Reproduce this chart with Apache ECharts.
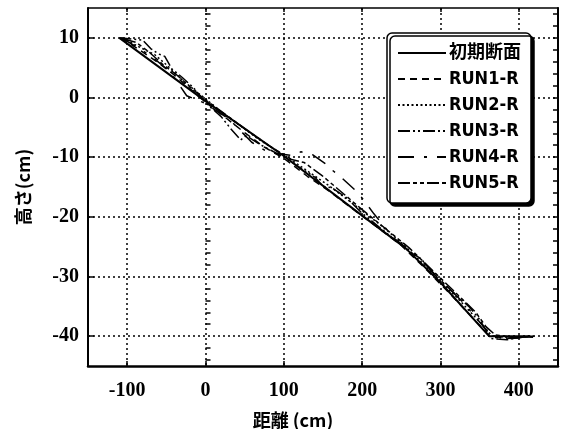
<!DOCTYPE html>
<html>
<head>
<meta charset="utf-8">
<script src="https://cdn.jsdelivr.net/npm/echarts@6/dist/echarts.min.js"></script>
<style>
  html, body { margin: 0; padding: 0; background: #fff; }
  #chart { width: 565px; height: 429px; }
</style>
</head>
<body>
<div id="chart"></div>
<script>
// Slope profiles: distance (cm) vs height (cm)
const seriesNames = ['初期断面', 'RUN1-R', 'RUN2-R', 'RUN3-R', 'RUN4-R', 'RUN5-R'];

const initialProfile = [[-110,10],[0,-0.6],[100,-9.8],[200,-19.8],[255,-25.2],[300,-31],[362,-40],[415,-40]];

const run1 = [[-108,10],[-80,7.6],[-60,5.8],[-40,3.8],[-20,1.5],[0,-0.8],[25,-3.3],[50,-5.9],[75,-8.3],[100,-10.2],
  [130,-13.2],[160,-15.9],[190,-18.9],[220,-21.8],[250,-24.8],[280,-28.6],[310,-32.6],[340,-36.8],[360,-39.6],
  [380,-40.4],[400,-40.2],[418,-40]];

const run2 = [[-106,10],[-85,8.5],[-65,7.2],[-50,5.5],[-30,3],[-10,0.8],[0,-0.2],[20,-2.4],[45,-4.8],[70,-7.2],
  [100,-9.6],[130,-12.3],[160,-15],[190,-18],[220,-21],[250,-24.3],[285,-28.8],[320,-33.4],[350,-37.6],[366,-40],
  [395,-40.3],[416,-39.9]];

const run3 = [[-110,10],[-80,9.6],[-70,8.2],[-60,7.3],[-52,6.9],[-43,4.8],[-30,3.4],[-15,1.6],[0,-0.9],[20,-3.2],
  [32,-5.2],[45,-7.1],[52,-6.4],[70,-7.9],[100,-10],[140,-13.4],[150,-14.9],[161,-15.1],[180,-16.8],[200,-19.4],
  [230,-22.6],[260,-25.8],[275,-27],[289,-29.2],[315,-32.5],[336,-35],[350,-37.2],[364,-40.4],[385,-40.6],
  [405,-40.1],[420,-40.2]];

const run4 = [[-107,10],[-70,7],[-45,4.3],[-24,0.3],[0,-1],[30,-3.6],[59,-7.5],[80,-9.2],[110,-9.7],[122,-9.1],
  [137,-9.6],[152,-11],[160,-12],[170,-13],[195,-16],[215,-19.5],[240,-23.5],[272,-26.8],[300,-30.6],[330,-34.5],
  [356,-38.6],[368,-40.2],[392,-40.4],[412,-40]];

const run5 = [[-104,9.8],[-88,9.2],[-72,7.6],[-55,5.6],[-35,3.6],[-15,1.2],[0,-0.4],[25,-2.8],[50,-5.2],[80,-8],
  [110,-10.4],[126,-10.9],[148,-13],[175,-16],[200,-18.8],[230,-22],[260,-25.2],[290,-29],[320,-32.8],[345,-36],
  [358,-38.4],[370,-39.8],[398,-40.3],[420,-40]];

const xTicks = [-100, 0, 100, 200, 300, 400];
const yTicks = [-40, -30, -20, -10, 0, 10];
const yMinorTicks = [-44,-42,-38,-36,-34,-32,-28,-26,-24,-22,-18,-16,-14,-12,-8,-6,-4,-2,2,4,6,8,12,14];

const profiles = [initialProfile, run1, run2, run3, run4, run5];
const dashStyles = ['solid', [7, 5], [2, 2.5], [12, 3, 2, 3, 2, 3], [16, 10, 3, 10], [12, 3, 4, 3, 4, 3]];
const widths = [2, 1.5, 1.5, 1.5, 1.5, 1.5];

const serifFont = "'Liberation Serif', 'DejaVu Serif', serif";
const labelFont = "'Liberation Sans Narrow', 'DejaVu Sans Condensed', 'Liberation Sans', 'Noto Sans CJK JP', sans-serif";

const chart = echarts.init(document.getElementById('chart'), null, { renderer: 'canvas' });

const axisLine = (w) => ({ show: true, onZero: false, lineStyle: { color: '#000', width: w } });

chart.setOption({
  animation: false,
  backgroundColor: '#fff',
  grid: { left: 88, right: 7, top: 8, bottom: 63, outerBoundsMode: 'none', containLabel: false },
  xAxis: [
    {
      type: 'value', position: 'bottom', min: -150, max: 450,
      axisLine: axisLine(2.5),
      axisTick: { show: true, inside: true, length: 5, customValues: xTicks, lineStyle: { color: '#000', width: 1.5 } },
      axisLabel: { customValues: xTicks, color: '#000', fontFamily: serifFont, fontWeight: 'bold', fontSize: 20, margin: 15 },
      splitLine: { show: true, lineStyle: { color: '#000', type: [2, 3], width: 1.5 } },
      name: '距離 (cm)', nameLocation: 'middle', nameGap: 45,
      nameTextStyle: { color: '#000', fontFamily: "'Noto Sans CJK JP', sans-serif", fontWeight: 'bold', fontSize: 18, padding: [0, 60, 0, 0] }
    },
    {
      type: 'value', position: 'top', min: -150, max: 450,
      axisLine: axisLine(1.5),
      axisTick: { show: true, inside: true, length: 4, customValues: xTicks, lineStyle: { color: '#000', width: 1.5 } },
      axisLabel: { show: false }, splitLine: { show: false }
    }
  ],
  yAxis: [
    {
      type: 'value', position: 'left', min: -45, max: 15,
      axisLine: axisLine(2),
      axisTick: { show: true, inside: true, length: 6, customValues: yTicks, lineStyle: { color: '#000', width: 1.5 } },
      axisLabel: { customValues: yTicks, color: '#000', fontFamily: serifFont, fontWeight: 'bold', fontSize: 20, margin: 9 },
      splitLine: { show: true, lineStyle: { color: '#000', type: [2, 3], width: 1.5 } },
      name: '高さ(cm)', nameLocation: 'middle', nameGap: 56,
      nameTextStyle: { color: '#000', fontFamily: "'Noto Sans CJK JP', sans-serif", fontWeight: 'bold', fontSize: 18 }
    },
    {
      type: 'value', position: 'left', min: -45, max: 15,
      axisLine: { show: false },
      axisTick: { show: true, inside: true, length: 5, customValues: yMinorTicks, lineStyle: { color: '#000', width: 1.5 } },
      axisLabel: { show: false }, splitLine: { show: false }
    },
    {
      type: 'value', position: 'right', min: -45, max: 15,
      axisLine: axisLine(2),
      axisTick: { show: true, inside: true, length: 5, customValues: yMinorTicks.concat(yTicks), lineStyle: { color: '#000', width: 1.5 } },
      axisLabel: { show: false }, splitLine: { show: false }
    }
  ],
  legend: {
    orient: 'vertical', left: 387, top: 33,
    data: seriesNames,
    itemWidth: 48, itemHeight: 14, itemGap: 6,
    padding: [10, 10, 10, 10],
    backgroundColor: '#fff',
    borderColor: '#000', borderWidth: 1.5, borderRadius: 5,
    shadowColor: '#000', shadowBlur: 0, shadowOffsetX: 3, shadowOffsetY: 3,
    itemStyle: { opacity: 0 },
    textStyle: { color: '#000', fontFamily: labelFont, fontWeight: 'bold', fontSize: 18, lineHeight: 20, padding: [0, 0, 0, -2] }
  },
  series: profiles.map((d, i) => ({
    name: seriesNames[i],
    type: 'line',
    xAxisIndex: 0, yAxisIndex: 0,
    data: d,
    symbol: 'none',
    smooth: false,
    lineStyle: { color: '#000', width: widths[i], type: dashStyles[i] },
    itemStyle: { color: '#000' }
  }))
});
</script>
</body>
</html>
